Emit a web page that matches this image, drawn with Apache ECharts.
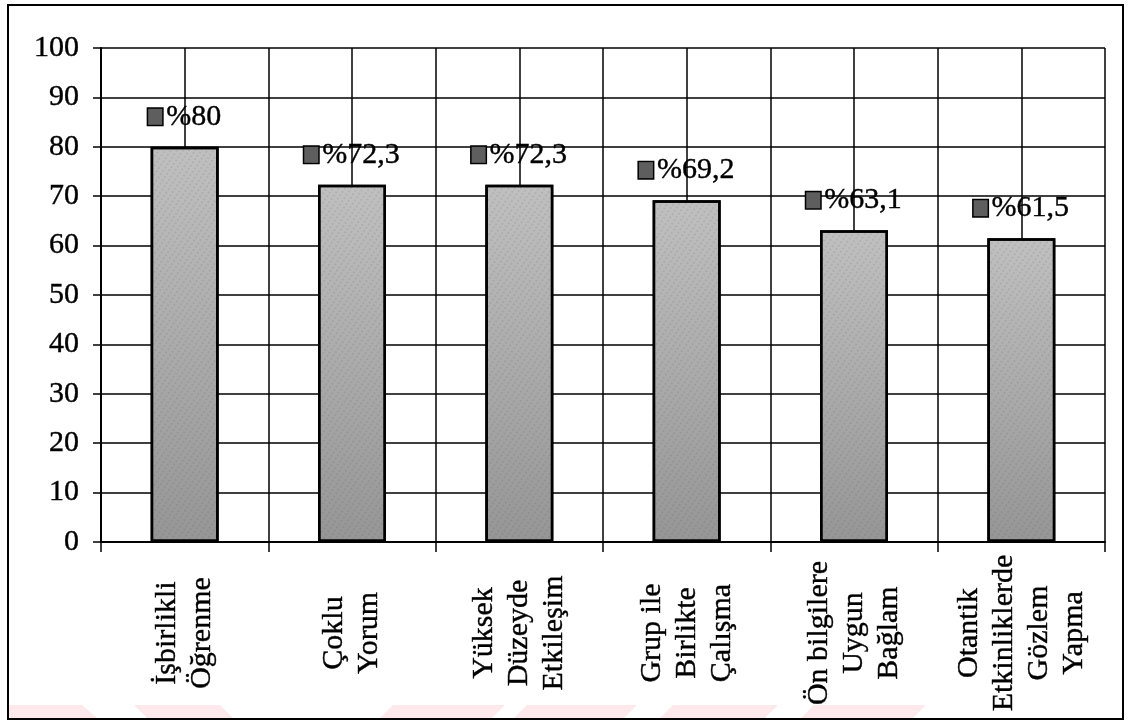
<!DOCTYPE html>
<html>
<head>
<meta charset="utf-8">
<style>
  html, body { margin: 0; padding: 0; background: #ffffff; }
  #chart { width: 1131px; height: 721px; }
</style>
<script src="https://cdn.jsdelivr.net/npm/echarts@6/dist/echarts.min.js"></script>
</head>
<body>
<div id="chart"></div>
<script>
// ---- data ----
const categories = [
  'İşbirlikli\nÖğrenme',
  'Çoklu\nYorum',
  'Yüksek\nDüzeyde\nEtkileşim',
  'Grup ile\nBirlikte\nÇalışma',
  'Ön bilgilere\nUygun\nBağlam',
  'Otantik\nEtkinliklerde\nGözlem\nYapma'
];
const values = [80, 72.3, 72.3, 69.2, 63.1, 61.5];
const yTicks = [0, 10, 20, 30, 40, 50, 60, 70, 80, 90, 100];

const FONT = '"Liberation Serif", "DejaVu Serif", serif';

const chart = echarts.init(document.getElementById('chart'), null, { renderer: 'canvas' });

const barFill = new echarts.graphic.LinearGradient(0, 0, 0, 1, [
  { offset: 0, color: '#c0c0c0' },
  { offset: 0.5, color: '#ababab' },
  { offset: 1, color: '#969696' }
]);

const pinkShapes = [
  [[9,705],[82,705],[98,719],[9,719]],
  [[134,705],[220,705],[234,719],[148,719]],
  [[393,705],[505,705],[491,719],[379,719]],
  [[527,705],[637,705],[623,719],[513,719]],
  [[673,705],[778,705],[764,719],[659,719]],
  [[814,705],[926,705],[912,719],[800,719]]
];

const textThick = { textBorderColor: '#000', textBorderWidth: 0.4 };

const option = {
  backgroundColor: '#ffffff',
  animation: false,
  graphic: [
    ...pinkShapes.map(pts => ({
      type: 'polygon', z: -10, silent: true,
      shape: { points: pts },
      style: { fill: '#fde8ec' }
    })),
    {
      type: 'rect', z: 100, silent: true,
      shape: { x: 8, y: 5, width: 1115, height: 714 },
      style: { fill: 'none', stroke: '#000', lineWidth: 2 }
    }
  ],
  grid: { left: 101, right: 26, top: 48, bottom: 179, containLabel: false },
  xAxis: [
    {
      type: 'category',
      data: categories,
      boundaryGap: true,
      axisLine: { show: true, lineStyle: { color: '#000', width: 2 } },
      axisTick: { show: true, length: 10, inside: false, lineStyle: { color: '#000', width: 1.5 } },
      splitLine: { show: false },
      axisLabel: Object.assign({
        rotate: 90,
        align: 'center',
        verticalAlign: 'middle',
        margin: 91,
        interval: 0,
        fontFamily: FONT,
        fontSize: 30,
        lineHeight: 35,
        color: '#000'
      }, textThick)
    },
    {
      type: 'value',
      min: 0, max: 12, interval: 1,
      position: 'bottom',
      axisLine: { show: false },
      axisTick: { show: false },
      axisLabel: { show: false },
      splitLine: { show: true, lineStyle: { color: '#000', width: 1.5 } }
    }
  ],
  yAxis: {
    type: 'value',
    min: yTicks[0],
    max: yTicks[yTicks.length - 1],
    interval: 10,
    axisLine: { show: true, lineStyle: { color: '#000', width: 2 } },
    axisTick: { show: true, length: 8, inside: false, lineStyle: { color: '#000', width: 1.5 } },
    splitLine: { show: true, lineStyle: { color: '#000', width: 1.5 } },
    axisLabel: Object.assign({
      margin: 22,
      fontFamily: FONT,
      fontSize: 30,
      color: '#000'
    }, textThick)
  },
  series: [{
    type: 'bar',
    xAxisIndex: 0,
    data: values,
    barWidth: 68,
    itemStyle: {
      color: barFill,
      borderColor: '#000',
      borderWidth: 2.5,
      decal: {
        symbol: 'rect',
        symbolSize: 0.6,
        color: 'rgba(60,60,60,0.35)',
        dashArrayX: [[2, 3]],
        dashArrayY: [2, 2],
        rotation: 0.6
      }
    },
    label: {
      show: true,
      position: 'top',
      distance: 15,
      formatter: p => '{icon|}{t|%' + String(p.value).replace('.', ',') + '}',
      rich: {
        icon: {
          width: 14, height: 16,
          backgroundColor: '#5e5e5e',
          borderColor: '#000', borderWidth: 1.5,
          padding: 0
        },
        t: Object.assign({
          fontFamily: FONT, fontSize: 30, color: '#000',
          padding: [0, 0, 0, 4]
        }, textThick)
      }
    }
  }]
};

chart.setOption(option);
</script>
</body>
</html>
